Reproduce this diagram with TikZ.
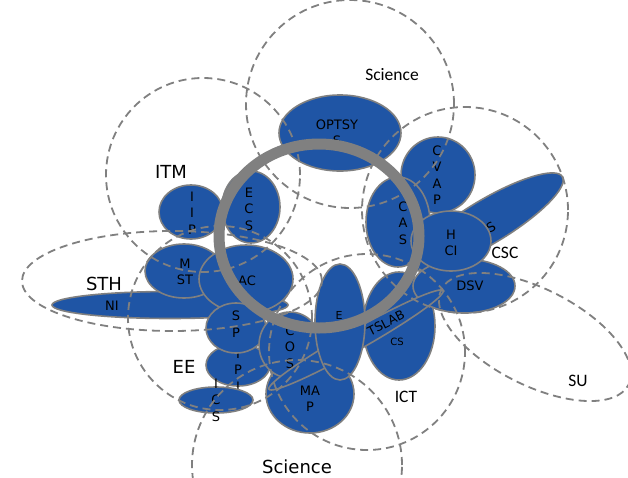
\documentclass[tikz,border=0pt]{standalone}
\usepackage{fontspec}
\newfontfamily\dvfont{DejaVu Sans}
\newfontfamily\cbfont{Carlito}
\usetikzlibrary{shapes.geometric}
\definecolor{deptblue}{RGB}{31,85,165}
\definecolor{edgegray}{RGB}{128,128,128}
\begin{document}
\begin{tikzpicture}[x=1pt,y=-1pt,
  dept/.style={ellipse, draw=edgegray, fill=deptblue, line width=1.6pt, inner sep=0pt, outer sep=0pt},
  school/.style={draw=edgegray, line width=1.8pt, dash pattern=on 8pt off 5pt},
  dlab/.style={font=\dvfont\fontsize{13}{16.5}\selectfont, align=center, inner sep=0pt, text=black},
  slab/.style={font=\dvfont\fontsize{10}{12}\selectfont, align=center, inner sep=0pt, text=black},
  biglab/.style={font=\dvfont\fontsize{18}{20}\selectfont, inner sep=0pt, text=black},
  cblab/.style={font=\cbfont\fontsize{17.5}{20}\selectfont, inner sep=0pt, text=black},
  ring/.style={draw=edgegray, line width=11pt}]
\fill[white] (0,0) rectangle (628,477);
\useasboundingbox (0,0) rectangle (628,477);

% departments (back to front)
\node[dept, minimum width=122pt, minimum height=76pt] (optsys) at (340,133) {};
\node[dlab] (optsysL) at (337,133) {OPTSY\\S};
\node[dept, minimum width=64pt, minimum height=54pt] (iip) at (191,212) {};
\node[dlab] (iipL) at (192,213) {I\\I\\P};
\node[dept, minimum width=58pt, minimum height=72pt] (ecs) at (251,207) {};
\node[dlab] (ecsL) at (249,209) {E\\C\\S};
\node[dept, minimum width=236pt, minimum height=27pt] (ni) at (170,305) {};
\node[dlab] (niL) at (112,306) {NI};
\node[dept, minimum width=78pt, minimum height=54pt] (mst) at (184,271) {};
\node[dlab] (mstL) at (185,272) {M\\ST};
\node[dept, minimum width=94pt, minimum height=68pt] (ac) at (246,279) {};
\node[dlab] (acL) at (247,281) {AC};
\node[dept, minimum width=64pt, minimum height=42pt] (ipl) at (238,365) {};
\node[dlab] (iplL) at (238,370) {I\\P\\I};
\node[dept, minimum width=60pt, minimum height=50pt] (sp) at (236,328) {};
\node[dlab] (spL) at (236,324) {S\\P};
\node[dept, minimum width=74pt, minimum height=26pt] (ics) at (216,400) {};
\node[dlab] (icsL) at (216,400) {I\\C\\S};
\node[dept, minimum width=88pt, minimum height=78pt] (map) at (310,394) {};
\node[dlab] (mapL) at (310,399) {MA\\P};
\node[dept, minimum width=62pt, minimum height=66pt] (os) at (290,345) {};
\node[dlab] (osL) at (290,347) {C\\O\\S};
\node[dept, minimum width=72pt, minimum height=108pt] (cs) at (399,326) {};
\node[slab] (csL) at (397,342) {CS};
\node[dept, minimum width=74pt, minimum height=76pt] (cvap) at (438,175) {};
\node[dlab] (cvapL) at (437,175) {C\\V\\A\\P};
\node[dept, minimum width=176pt, minimum height=44pt, rotate=31] (tcs) at (487,222) {};
\node[dlab, rotate=31] (tcsL) at (491,227) {S};
\node[dept, minimum width=64pt, minimum height=90pt] (cas) at (398,222) {};
\node[dlab] (casL) at (403,223) {C\\A\\S};
\node[dept, minimum width=102pt, minimum height=54pt] (dsv) at (464,286) {};
\node[dlab] (dsvL) at (470,286) {DSV};
\node[dept, minimum width=80pt, minimum height=60pt] (hci) at (451,241) {};
\node[dlab] (hciL) at (451,243) {H\\CI};
\node[dept, minimum width=200pt, minimum height=20pt, rotate=29.5] (tslab) at (356,340) {};
\node[dlab, font=\dvfont\fontsize{12.5}{15}\selectfont, rotate=27] (tslabL) at (386,323) {TSLAB};
\node[dept, minimum width=50pt, minimum height=116pt] (e) at (340,322) {};
\node[dlab, font=\dvfont\fontsize{11}{13}\selectfont] (eL) at (339,315) {E};

% schools (dashed)
\draw[school] (350,104) circle [radius=104pt];
\draw[school] (203,175) circle [radius=97pt];
\draw[school] (465,210) circle [radius=103pt];
\draw[school] (172,281) ellipse [x radius=150pt, y radius=50pt];
\draw[school] (220,318) circle [radius=92pt];
\draw[school] (367,352) circle [radius=98pt];
\draw[school, rotate around={-27:(535,337)}] (535,337) ellipse [x radius=105pt, y radius=48pt];
\draw[school] (297,465) circle [radius=105pt];

% ring
\draw[ring] (319,236) ellipse [x radius=100pt, y radius=92pt];

% school labels
\node[cblab] (sciTop) at (392,75) {Science};
\node[biglab] (itm) at (171,172) {ITM};
\node[biglab] (sth) at (104,284) {STH};
\node[biglab] (ee) at (184,367) {EE};
\node[cblab] (csc) at (505,253) {CSC};
\node[cblab] (ict) at (406,397) {ICT};
\node[cblab] (su) at (578,381) {SU};
\node[biglab] (sciBot) at (297,467) {Science};
\end{tikzpicture}
\end{document}
